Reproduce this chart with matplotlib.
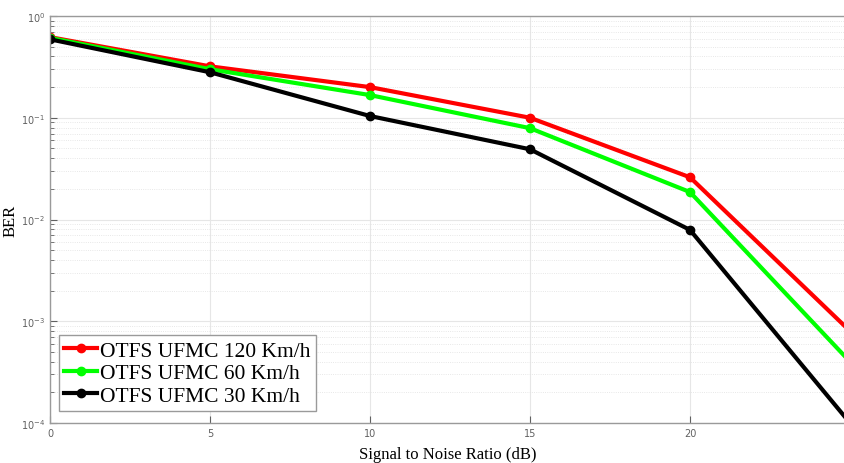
import numpy as np
import matplotlib.pyplot as plt
from matplotlib.ticker import LogLocator, NullFormatter

# SNR points (dB) and BER per speed
snr = [0, 5, 10, 15, 20, 25]
ber_120 = [0.62, 0.32, 0.20, 0.100, 0.026, 8.0e-4]
ber_60 = [0.61, 0.30, 0.167, 0.079, 0.0186, 4.0e-4]
ber_30 = [0.59, 0.28, 0.104, 0.049, 0.0079, 1.0e-4]

labels = ['OTFS UFMC 120 Km/h', 'OTFS UFMC 60 Km/h', 'OTFS UFMC 30 Km/h']
colors = ['#ff0000', '#00ff00', '#000000']

fig = plt.figure(figsize=(8.45, 4.64), dpi=100)
ax = fig.add_axes([50 / 845, 1 - 424 / 464, 1 - 50 / 845, (424 - 17) / 464])

for y, lab, c in zip([ber_120, ber_60, ber_30], labels, colors):
    ax.semilogy(snr, y, color=c, lw=3, marker='o', markersize=6, label=lab)

ax.set_xlim(0, 795 / 32)
ax.set_ylim(1e-4, 1)
ax.set_xticks([0, 5, 10, 15, 20])
ax.yaxis.set_major_locator(LogLocator(base=10, numticks=10))
ax.yaxis.set_minor_locator(LogLocator(base=10, subs=np.arange(2, 10), numticks=20))
ax.yaxis.set_minor_formatter(NullFormatter())

ax.grid(True, which='major', color='#e6e6e6', lw=0.8)
ax.grid(True, which='minor', axis='y', color='#e0e0e0', lw=0.6, ls=':')
ax.set_axisbelow(True)

for s in ax.spines.values():
    s.set_color('#9a9a9a')
    s.set_linewidth(1.0)
ax.tick_params(which='both', direction='in', colors='#606060', labelsize=7,
               top=False, right=False)
ax.tick_params(which='major', length=5)
ax.tick_params(which='minor', length=3)

ax.set_xlabel('Signal to Noise Ratio (dB)', family='Liberation Serif', fontsize=12, labelpad=6)
ax.set_ylabel('BER', family='Liberation Serif', fontsize=12)
ax.yaxis.set_label_coords(-0.04, 0.5)

leg = ax.legend(loc='lower left', bbox_to_anchor=(0.006, 0.018),
                prop={'family': 'Liberation Serif', 'size': 15.5},
                fancybox=False, framealpha=1, edgecolor='#9a9a9a',
                handlelength=1.5, handletextpad=0.15, borderpad=0.25, labelspacing=0.12,
                borderaxespad=0.2)
leg.get_frame().set_linewidth(1.0)

fig.savefig('out.png', dpi=100)
